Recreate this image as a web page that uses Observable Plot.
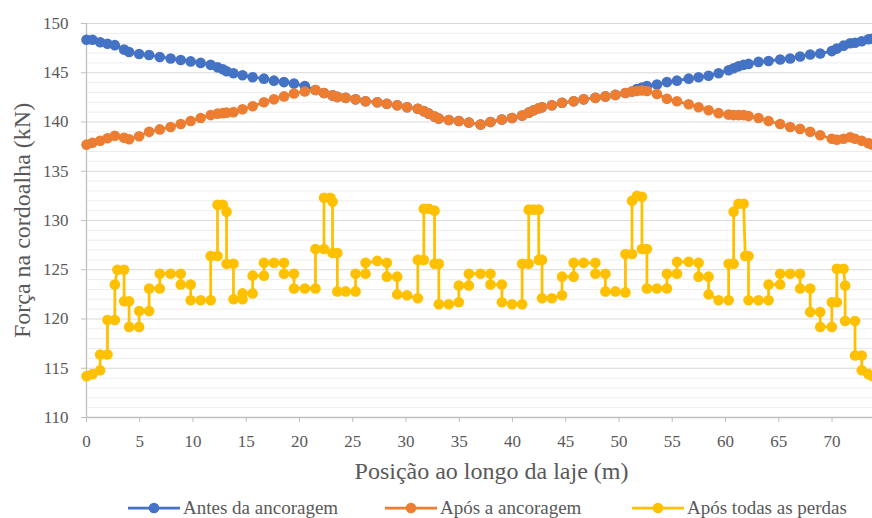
<!DOCTYPE html>
<html><head><meta charset="utf-8">
<script src="https://cdn.jsdelivr.net/npm/d3@7"></script>
<script src="https://cdn.jsdelivr.net/npm/@observablehq/plot@0.6"></script>
<style>
body{margin:0;background:#fff;}
#wrap{position:relative;width:872px;height:518px;overflow:hidden;font-family:'Liberation Serif','DejaVu Serif',serif;}
#chart svg, #chart svg text{font-family:'Liberation Serif','DejaVu Serif',serif !important;}
#legend .item{position:absolute;top:498px;height:20px;display:flex;align-items:center;font-size:19px;color:#595959;white-space:nowrap;}
#legend svg{display:block;margin-right:3px;}
</style></head><body>
<div id="wrap"><div id="chart"></div><div id="legend"></div></div>
<script>
const seriesNames = ["Antes da ancoragem", "Após a ancoragem", "Após todas as perdas"];
const seriesColors = ["#4472C4", "#ED7D31", "#FFC000"];
const xTitle = "Posição ao longo da laje (m)";
const yTitle = "Força na cordoalha (kN)";
const xTicks = [0, 5, 10, 15, 20, 25, 30, 35, 40, 45, 50, 55, 60, 65, 70];
const yTicks = [110, 115, 120, 125, 130, 135, 140, 145, 150];
const yMinor = [111,112,113,114,116,117,118,119,121,122,123,124,126,127,128,129,131,132,133,134,136,137,138,139,141,142,143,144,146,147,148,149];

// positions (m) for the two upper series
const posX = [0, 0.56, 1.28, 1.97, 2.66, 3.53, 4.0, 4.94, 5.88, 6.88,
  7.9, 8.85, 9.78, 10.72, 11.66, 12.3, 12.8, 13.15, 13.8, 14.65,
  15.6, 16.66, 17.6, 18.54, 19.48, 20.5, 21.5, 22.3, 23.1, 23.55,
  24.33, 25.26, 26.2, 27.3, 28.2, 29.17, 30.1, 31.11, 31.67, 32.14,
  32.68, 33.08, 34.02, 34.96, 35.9, 37.0, 37.93, 39.0, 39.96, 40.9,
  41.52, 41.99, 42.46, 42.77, 43.7, 44.65, 45.74, 46.68, 47.78, 48.72,
  49.66, 50.6, 51.22, 51.68, 52.15, 52.62, 53.56, 54.5, 55.44, 56.54,
  57.47, 58.41, 59.35, 60.29, 60.76, 61.22, 61.7, 62.16, 63.1, 64.04,
  65.13, 66.07, 67.0, 67.95, 68.89, 69.98, 70.45, 71.08, 71.7, 72.16,
  72.79, 73.42, 73.8];

const blueY = [148.35, 148.35, 148.1, 147.95, 147.8, 147.35, 147.1, 146.9, 146.8, 146.6,
  146.45, 146.3, 146.15, 146.0, 145.8, 145.55, 145.35, 145.15, 144.95, 144.75,
  144.55, 144.4, 144.2, 144.05, 143.9, 143.65, 143.25, 142.95, 142.7, 142.55,
  142.45, 142.3, 142.1, 142.0, 141.85, 141.7, 141.5, 141.35, 141.1, 140.85,
  140.55, 140.35, 140.2, 140.1, 139.95, 139.75, 140.0, 140.25, 140.4, 140.65,
  140.95, 141.2, 141.4, 141.5, 141.7, 141.95, 142.1, 142.3, 142.45, 142.6,
  142.75, 142.95, 143.1, 143.35, 143.5, 143.65, 143.8, 144.05, 144.2, 144.4,
  144.55, 144.7, 144.95, 145.25, 145.45, 145.65, 145.8, 145.9, 146.1, 146.2,
  146.35, 146.45, 146.65, 146.85, 146.95, 147.2, 147.45, 147.75, 148.0, 148.05,
  148.2, 148.4, 148.45];

const orangeY = [137.7, 137.9, 138.1, 138.35, 138.6, 138.4, 138.25, 138.55, 139.0, 139.25,
  139.5, 139.8, 140.1, 140.4, 140.7, 140.85, 140.9, 140.95, 141.0, 141.3,
  141.6, 142.0, 142.3, 142.6, 142.9, 143.1, 143.25, 142.95, 142.7, 142.55,
  142.45, 142.3, 142.1, 142.0, 141.85, 141.7, 141.5, 141.35, 141.1, 140.85,
  140.55, 140.35, 140.2, 140.1, 139.95, 139.75, 140.0, 140.25, 140.4, 140.65,
  140.95, 141.2, 141.4, 141.5, 141.7, 141.95, 142.1, 142.3, 142.45, 142.6,
  142.75, 142.95, 143.1, 143.15, 143.2, 143.15, 142.85, 142.35, 142.1, 141.8,
  141.5, 141.2, 140.9, 140.75, 140.7, 140.7, 140.7, 140.6, 140.4, 140.1,
  139.8, 139.5, 139.3, 139.0, 138.65, 138.3, 138.2, 138.3, 138.45, 138.3,
  138.1, 137.85, 137.7];

// "Após todas as perdas" points (m, kN)
const yellowX = [0, 0.56, 1.28, 1.28, 1.97, 1.97, 2.66, 2.66, 2.9, 3.53,
  3.53, 4.0, 4.0, 4.94, 4.94, 5.88, 5.88, 6.88, 6.88, 7.9,
  8.85, 8.85, 9.78, 9.78, 10.72, 11.66, 11.66, 12.3, 12.3, 12.8,
  13.15, 13.15, 13.8, 13.8, 14.65, 14.65, 15.6, 15.6, 16.66, 16.66,
  17.6, 18.54, 18.54, 19.48, 19.48, 20.5, 21.5, 21.5, 22.3, 22.3,
  22.9, 23.1, 23.1, 23.55, 23.55, 24.33, 25.26, 25.26, 26.2, 26.2,
  27.3, 28.2, 28.2, 29.17, 29.17, 30.1, 31.11, 31.11, 31.67, 31.67,
  32.14, 32.68, 32.68, 33.08, 33.08, 34.02, 34.96, 34.96, 35.9, 35.9,
  37.0, 37.93, 37.93, 39.0, 39.0, 39.96, 40.9, 40.9, 41.52, 41.52,
  41.99, 42.46, 42.46, 42.77, 42.77, 43.7, 44.65, 44.65, 45.74, 45.74,
  46.68, 47.78, 47.78, 48.72, 48.72, 49.66, 50.6, 50.6, 51.22, 51.22,
  51.68, 52.15, 52.15, 52.62, 52.62, 53.56, 54.5, 54.5, 55.44, 55.44,
  56.54, 57.47, 57.47, 58.41, 58.41, 59.35, 60.29, 60.29, 60.76, 60.76,
  61.22, 61.7, 61.85, 62.16, 62.16, 63.1, 64.04, 64.04, 65.13, 65.13,
  66.07, 67.0, 67.0, 67.95, 67.95, 68.89, 68.89, 69.98, 69.98, 70.45,
  70.45, 71.08, 71.23, 71.23, 72.16, 72.16, 72.79, 72.79, 73.42, 73.8];
const yellowY = [114.2, 114.4, 114.8, 116.4, 116.4, 119.9, 119.9, 123.5, 125.0, 125.0,
  121.8, 121.8, 119.2, 119.2, 120.8, 120.8, 123.1, 123.1, 124.6, 124.6,
  124.6, 123.5, 123.5, 121.9, 121.9, 121.9, 126.4, 126.4, 131.6, 131.6,
  130.9, 125.6, 125.6, 122.0, 122.0, 122.6, 122.6, 124.4, 124.4, 125.7,
  125.7, 125.7, 124.6, 124.6, 123.1, 123.1, 123.1, 127.1, 127.1, 132.3,
  132.3, 131.9, 126.7, 126.7, 122.8, 122.8, 122.8, 124.6, 124.6, 125.7,
  125.9, 125.7, 124.3, 124.3, 122.5, 122.4, 122.1, 126.0, 126.0, 131.2,
  131.2, 131.0, 125.6, 125.6, 121.5, 121.5, 121.7, 123.4, 123.4, 124.6,
  124.6, 124.6, 123.5, 123.5, 121.7, 121.5, 121.5, 125.6, 125.6, 131.1,
  131.1, 131.1, 126.0, 126.0, 122.1, 122.1, 122.4, 124.3, 124.3, 125.7,
  125.7, 125.7, 124.6, 124.6, 122.8, 122.8, 122.7, 126.6, 126.6, 132.0,
  132.5, 132.4, 127.1, 127.1, 123.1, 123.1, 123.1, 124.6, 124.6, 125.8,
  125.8, 125.7, 124.3, 124.3, 122.5, 121.9, 121.9, 125.6, 125.6, 130.9,
  131.7, 131.7, 126.4, 126.4, 121.9, 121.9, 121.9, 123.5, 123.5, 124.6,
  124.6, 124.6, 123.1, 123.1, 120.7, 120.7, 119.2, 119.2, 121.7, 121.7,
  125.1, 125.1, 123.4, 119.8, 119.8, 116.3, 116.3, 114.8, 114.4, 114.2];

const upper = posX.map((x, i) => ({x, blue: blueY[i], orange: orangeY[i]}));
const lower = yellowX.map((x, i) => ({x, y: yellowY[i]}));
const font = "'Liberation Serif', 'DejaVu Serif', serif";

const chart = Plot.plot({
  width: 872, height: 490,
  marginLeft: 86, marginRight: 0, marginTop: 23, marginBottom: 73,
  style: {fontFamily: font, background: "transparent"},
  x: {domain: [0, 73.8]},
  y: {domain: [110, 150]},
  marks: [
    Plot.ruleY(yMinor, {stroke: "#ededed", strokeWidth: 1}),
    Plot.ruleY(yTicks.filter(v => v > 110), {stroke: "#d9d9d9", strokeWidth: 1}),
    Plot.ruleX([0], {stroke: "#bfbfbf", strokeWidth: 1.3}),
    Plot.ruleY([110], {stroke: "#bfbfbf", strokeWidth: 1.3}),
    Plot.axisY({ticks: yTicks, tickSize: 5, tickPadding: 13, label: null, stroke: "#bfbfbf", fill: "#595959", fontSize: 17}),
    Plot.axisX({ticks: xTicks, tickSize: 5, tickPadding: 12, label: null, stroke: "#bfbfbf", fill: "#595959", fontSize: 17}),
    Plot.text([xTitle], {text: d => d, frameAnchor: "bottom", lineAnchor: "middle", dy: 54, dx: 12, fontSize: 24, fill: "#595959"}),
    Plot.text([yTitle], {text: d => d, frameAnchor: "middle", rotate: -90, dx: -457, fontSize: 24, fill: "#595959"}),
    Plot.line(upper, {x: "x", y: "blue", stroke: seriesColors[0], strokeWidth: 2.75}),
    Plot.dot(upper, {x: "x", y: "blue", r: 5.3, fill: seriesColors[0]}),
    Plot.line(upper, {x: "x", y: "orange", stroke: seriesColors[1], strokeWidth: 2.75}),
    Plot.dot(upper, {x: "x", y: "orange", r: 5.3, fill: seriesColors[1]}),
    Plot.line(lower, {x: "x", y: "y", stroke: seriesColors[2], strokeWidth: 2.75}),
    Plot.dot(lower, {x: "x", y: "y", r: 5.3, fill: seriesColors[2]})
  ]
});
document.getElementById("chart").appendChild(chart);

const legendLeft = [128, 385, 632];
const legend = document.getElementById("legend");
seriesNames.forEach((name, i) => {
  const item = document.createElement("div");
  item.className = "item";
  item.style.left = legendLeft[i] + "px";
  item.innerHTML = `<svg width="52" height="14"><line x1="0" y1="7" x2="52" y2="7" stroke="${seriesColors[i]}" stroke-width="2.75"/><circle cx="26" cy="7" r="5.3" fill="${seriesColors[i]}"/></svg><span>${name}</span>`;
  legend.appendChild(item);
});
</script>
</body></html>
